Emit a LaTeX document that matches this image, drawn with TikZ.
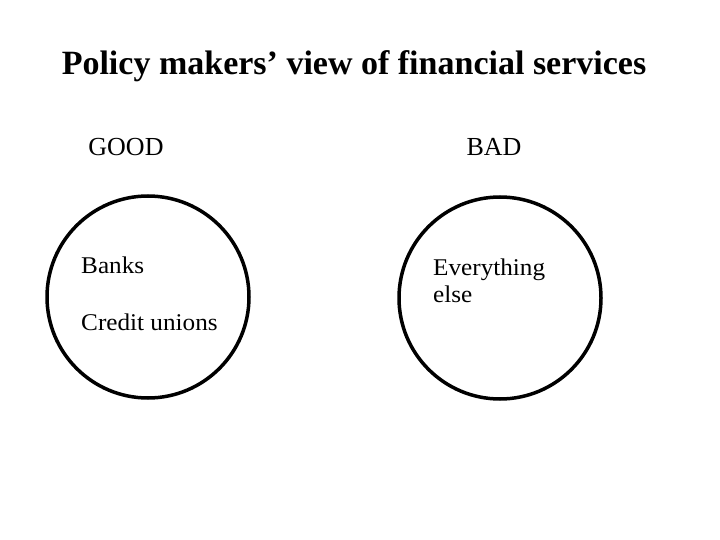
\documentclass[tikz,border=0pt]{standalone}
\usepackage{fontspec}
\setmainfont{Liberation Serif}
\newfontfamily\bodyfont[FakeStretch=1.05]{Liberation Serif}

\begin{document}
\begin{tikzpicture}[x=1pt, y=-1pt]
  \useasboundingbox[fill=white] (0, 0) rectangle (720, 540);
  \begin{scope}[every node/.style={inner sep=0pt}]
    \node[anchor=base, font=\fontsize{34}{40}\selectfont\bfseries] (title) at (354, 75) {Policy makers’ view of financial services}; % title

    \node[anchor=base, font=\fontsize{26}{30}\selectfont] (good) at (126, 156) {GOOD};
    \node[anchor=base, font=\fontsize{26}{30}\selectfont] (bad) at (494, 156) {BAD};

    \draw[line width=3.5pt] (148, 297) circle (101); % good
    \draw[line width=3.5pt] (500, 298) circle (101); % bad

    \node[anchor=base west, font=\bodyfont\fontsize{24}{27}\selectfont] (banks) at (81, 273) {Banks};
    \node[anchor=base west, font=\bodyfont\fontsize{24}{27}\selectfont] (credit) at (81, 330) {Credit unions};

    \node[anchor=base west, font=\bodyfont\fontsize{24}{27}\selectfont] (every) at (433, 275) {Everything};
    \node[anchor=base west, font=\bodyfont\fontsize{24}{27}\selectfont] (else) at (433, 302) {else};
  \end{scope}
\end{tikzpicture}
\end{document}
